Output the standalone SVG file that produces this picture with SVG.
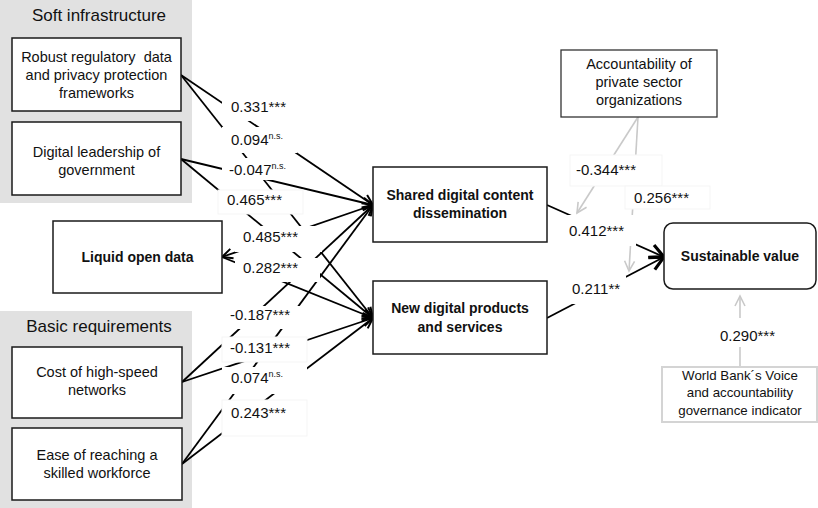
<svg xmlns="http://www.w3.org/2000/svg" width="818" height="508" viewBox="0 0 818 508">
<defs>
<style>
text{font-family:"Liberation Sans",Arial,sans-serif;fill:#111;}
.t{font-size:14.5px;text-anchor:middle;}
.b{font-size:14px;font-weight:bold;text-anchor:middle;}
.h{font-size:17px;text-anchor:middle;}
.l{font-size:15px;}
.s{font-size:9px;}
.box{fill:#fff;stroke:#1a1a1a;stroke-width:1.5;}
.panel{fill:#e1e1e1;}
.c{fill:none;stroke:#000;stroke-width:1.8;}
.g{fill:none;stroke:#c9c9c9;stroke-width:1.6;}
.lb{fill:#fff;stroke:none;}
.lbf{fill:#fff;stroke:#f5f5f5;stroke-width:1;}
</style>
<marker id="ah" markerUnits="userSpaceOnUse" markerWidth="14" markerHeight="14" viewBox="0 0 14 14" refX="12.5" refY="7" orient="auto">
<path d="M2,2 L12.5,7 L2,12" fill="none" stroke="#000" stroke-width="2"/>
</marker>
<marker id="ahb" markerUnits="userSpaceOnUse" markerWidth="20" markerHeight="20" viewBox="0 0 20 20" refX="17" refY="10" orient="auto">
<path d="M3,3 L17,10 L3,17" fill="none" stroke="#000" stroke-width="3.2"/>
</marker>
<marker id="ahg" markerUnits="userSpaceOnUse" markerWidth="14" markerHeight="14" viewBox="0 0 14 14" refX="12" refY="7" orient="auto">
<path d="M2,2 L12,7 L2,12" fill="none" stroke="#c9c9c9" stroke-width="1.6"/>
</marker>
</defs>
<rect width="818" height="508" fill="#fff"/>

<g id="panel-soft">
<rect class="panel" x="0" y="0" width="192" height="203"/>
<text class="h" x="99" y="21">Soft infrastructure</text>
</g>
<g id="panel-basic">
<rect class="panel" x="0" y="311" width="192" height="197"/>
<text class="h" x="99" y="332">Basic requirements</text>
</g>

<g id="connectors">
<line class="c" x1="181" y1="75" x2="373" y2="205" marker-end="url(#ah)"/>
<line class="c" x1="181" y1="75" x2="373" y2="318" marker-end="url(#ah)"/>
<line class="c" x1="181" y1="159" x2="373" y2="205" marker-end="url(#ah)"/>
<line class="c" x1="181" y1="159" x2="373" y2="318" marker-end="url(#ah)"/>
<line class="c" x1="373" y1="205" x2="222" y2="257" marker-end="url(#ah)"/>
<line class="c" x1="222" y1="257" x2="373" y2="318" marker-end="url(#ah)"/>
<line class="c" x1="182" y1="382" x2="373" y2="205" marker-end="url(#ah)"/>
<line class="c" x1="182" y1="382" x2="373" y2="318" marker-end="url(#ah)"/>
<line class="c" x1="182" y1="464" x2="373" y2="205" marker-end="url(#ah)"/>
<line class="c" x1="182" y1="464" x2="373" y2="318" marker-end="url(#ah)"/>
<line class="c" x1="547" y1="205" x2="664" y2="257" marker-end="url(#ahb)"/>
<line class="c" x1="547" y1="318" x2="664" y2="257" marker-end="url(#ahb)"/>
<line class="g" x1="638" y1="117" x2="577" y2="213" marker-end="url(#ahg)"/>
<line class="g" x1="638" y1="117" x2="629" y2="271" marker-end="url(#ahg)"/>
<line class="g" x1="740" y1="367" x2="740" y2="296" marker-end="url(#ahg)"/>
</g>

<g id="labels">
<rect class="lb" x="222" y="91" width="78" height="30"/>
<rect class="lb" x="222" y="127" width="75" height="26"/>
<rect class="lb" x="222" y="158" width="68" height="22"/>
<rect class="lbf" x="218" y="190" width="85" height="24"/>
<rect class="lb" x="235" y="226" width="87" height="26"/>
<rect class="lb" x="235" y="258" width="85" height="24"/>
<rect class="lb" x="222" y="306" width="85" height="23"/>
<rect class="lbf" x="222" y="337" width="85" height="25"/>
<rect class="lb" x="222" y="367" width="85" height="27"/>
<rect class="lbf" x="222" y="400" width="85" height="36"/>
<rect class="lbf" x="570" y="155" width="92" height="31"/>
<rect class="lbf" x="625" y="186" width="85" height="23"/>
<rect class="lb" x="565" y="215" width="71" height="31"/>
<rect class="lb" x="570" y="276" width="56" height="28"/>
<rect class="lb" x="712" y="318" width="78" height="29"/>
<text class="l" x="231" y="112">0.331***</text>
<text class="l" x="231" y="145">0.094<tspan class="s" dy="-6">n.s.</tspan></text>
<text class="l" x="229" y="175">-0.047<tspan class="s" dy="-6">n.s.</tspan></text>
<text class="l" x="227" y="205">0.465***</text>
<text class="l" x="243" y="242">0.485***</text>
<text class="l" x="243" y="273">0.282***</text>
<text class="l" x="230" y="320">-0.187***</text>
<text class="l" x="230" y="353">-0.131***</text>
<text class="l" x="231" y="383">0.074<tspan class="s" dy="-6">n.s.</tspan></text>
<text class="l" x="231" y="418">0.243***</text>
<text class="l" x="576" y="175">-0.344***</text>
<text class="l" x="634" y="203">0.256***</text>
<text class="l" x="569" y="236">0.412***</text>
<text class="l" x="572" y="294">0.211**</text>
<text class="l" x="720" y="341">0.290***</text>
</g>

<g id="n-robust">
<rect class="box" x="12" y="38" width="169" height="73"/>
<text class="t" x="96.5" y="62" style="white-space:pre">Robust regulatory  data</text>
<text class="t" x="96.5" y="80">and privacy protection</text>
<text class="t" x="96.5" y="98">frameworks</text>
</g>
<g id="n-digital">
<rect class="box" x="12" y="122" width="169" height="73"/>
<text class="t" x="96.5" y="157">Digital leadership of</text>
<text class="t" x="96.5" y="175">government</text>
</g>
<g id="n-liquid">
<rect class="box" x="53" y="221" width="169" height="72"/>
<text class="b" x="137.5" y="262">Liquid open data</text>
</g>
<g id="n-cost">
<rect class="box" x="12" y="347" width="170" height="71"/>
<text class="t" x="97" y="377">Cost of high-speed</text>
<text class="t" x="97" y="395">networks</text>
</g>
<g id="n-ease">
<rect class="box" x="12" y="428" width="170" height="72"/>
<text class="t" x="97" y="460">Ease of reaching a</text>
<text class="t" x="97" y="478">skilled workforce</text>
</g>
<g id="n-shared">
<rect class="box" x="373" y="167" width="174" height="75"/>
<text class="b" x="460" y="200">Shared digital content</text>
<text class="b" x="460" y="218">dissemination</text>
</g>
<g id="n-new">
<rect class="box" x="373" y="281" width="174" height="73"/>
<text class="b" x="460" y="313">New digital products</text>
<text class="b" x="460" y="332">and services</text>
</g>
<g id="n-sustainable">
<rect class="box" x="664" y="223" width="152" height="66" rx="9" ry="9"/>
<text class="b" x="740" y="261">Sustainable value</text>
</g>
<g id="n-accountability">
<rect x="561" y="50" width="156" height="67" fill="#fff" stroke="#333" stroke-width="1.3"/>
<text class="t" x="639" y="69">Accountability of</text>
<text class="t" x="639" y="87">private sector</text>
<text class="t" x="639" y="105">organizations</text>
</g>
<g id="n-worldbank">
<rect x="662" y="367" width="155" height="55" fill="#fff" stroke="#d4d4d4" stroke-width="2"/>
<text class="t" x="740" y="380" style="font-size:13.3px">World Bank´s Voice</text>
<text class="t" x="740" y="397" style="font-size:13.3px">and accountability</text>
<text class="t" x="740" y="415" style="font-size:13.3px">governance indicator</text>
</g>
</svg>
